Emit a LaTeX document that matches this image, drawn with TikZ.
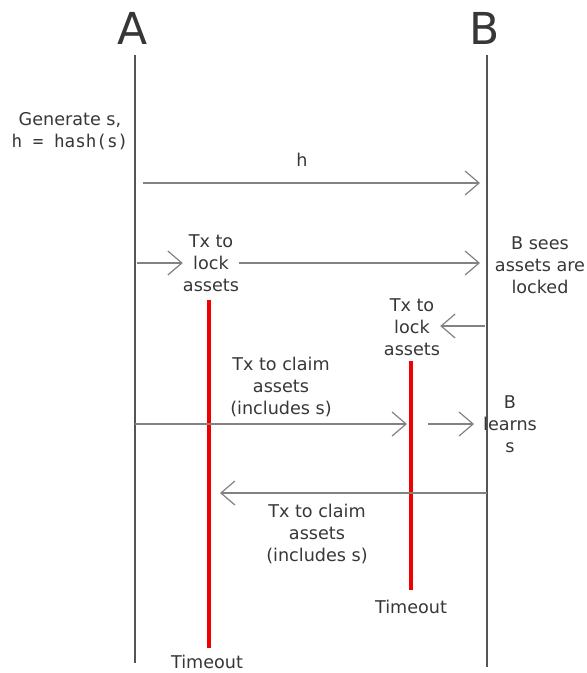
\documentclass[tikz,border=0pt]{standalone}
\usepackage{fontspec}
\setmainfont{DejaVu Sans}
\setmonofont{DejaVu Sans Mono}
\usetikzlibrary{arrows.meta}
\definecolor{txt}{RGB}{55,55,55}
\definecolor{life}{RGB}{85,85,85}
\definecolor{msgc}{RGB}{130,130,130}
\definecolor{tred}{RGB}{240,0,0}
\tikzset{
  lifeline/.style={draw=life, line width=1.5pt},
  msg/.style={draw=msgc, line width=1.2pt, -{Straight Barb[length=14pt,width=24pt,line width=1.2pt]}},
  lbl/.style={text=txt, font=\fontsize{17.6}{22}\selectfont, align=center, inner sep=0pt},
  party/.style={text=txt, font=\fontsize{44}{48}\selectfont, inner sep=0pt},
  timer/.style={draw=tred, line width=4pt},
}
\begin{document}
\begin{tikzpicture}[x=1pt,y=-1pt]
\useasboundingbox (0,0) rectangle (587,673);
% parties
\node[party] (A) at (133,28) {A};
\node[party] (B) at (485,28) {B};
\coordinate (Atop) at (135,55);
\coordinate (Abot) at (135,663);
\coordinate (Btop) at (487,55);
\coordinate (Bbot) at (487,667);
\draw[lifeline] (Atop) -- (Abot);
\draw[lifeline] (Btop) -- (Bbot);
% generate
\node[lbl] (gen) at (70,131) {Generate s,\\\texttt{h = hash(s)}};
% h message
\coordinate (h1) at (143,183);
\coordinate (h2) at (480,183);
\draw[msg] (h1) -- (h2);
\node[lbl] (hl) at (302,160) {h};
% A lock
\coordinate (l1) at (137,263);
\node[lbl] (lockA) at (211,263) {Tx to\\lock\\assets};
\coordinate (l2) at (480,263);
\draw[msg] (l1) -- (lockA.west |- l1);
\draw[msg] (lockA.east |- l1) -- (l2);
\node[lbl] (sees) at (540,265) {B sees\\assets are\\locked};
% A timeout
\coordinate (ta1) at (209,300);
\coordinate (ta2) at (209,648);
\draw[timer] (ta1) -- (ta2);
\node[lbl] (toA) at (207,662) {Timeout};
% B lock
\coordinate (b1) at (485,326);
\node[lbl] (lockB) at (412,327) {Tx to\\lock\\assets};
\draw[msg] (b1) -- (lockB.east |- b1);
% B timeout
\coordinate (tb1) at (411,361);
\coordinate (tb2) at (411,590);
\draw[timer] (tb1) -- (tb2);
\node[lbl] (toB) at (411,607) {Timeout};
% A claims
\node[lbl] (claimA) at (281,387) {Tx to claim\\assets\\(includes s)};
\coordinate (c1) at (135,424);
\coordinate (c2) at (407,424);
\draw[msg] (c1) -- (c2);
\coordinate (c3) at (428,424);
\coordinate (c4) at (474,424);
\draw[msg] (c3) -- (c4);
\node[lbl] (learn) at (510,424) {B\\learns\\s};
% B claims
\coordinate (d1) at (487,493);
\coordinate (d2) at (220,493);
\draw[msg] (d1) -- (d2);
\node[lbl] (claimB) at (317,534) {Tx to claim\\assets\\(includes s)};
\end{tikzpicture}
\end{document}
